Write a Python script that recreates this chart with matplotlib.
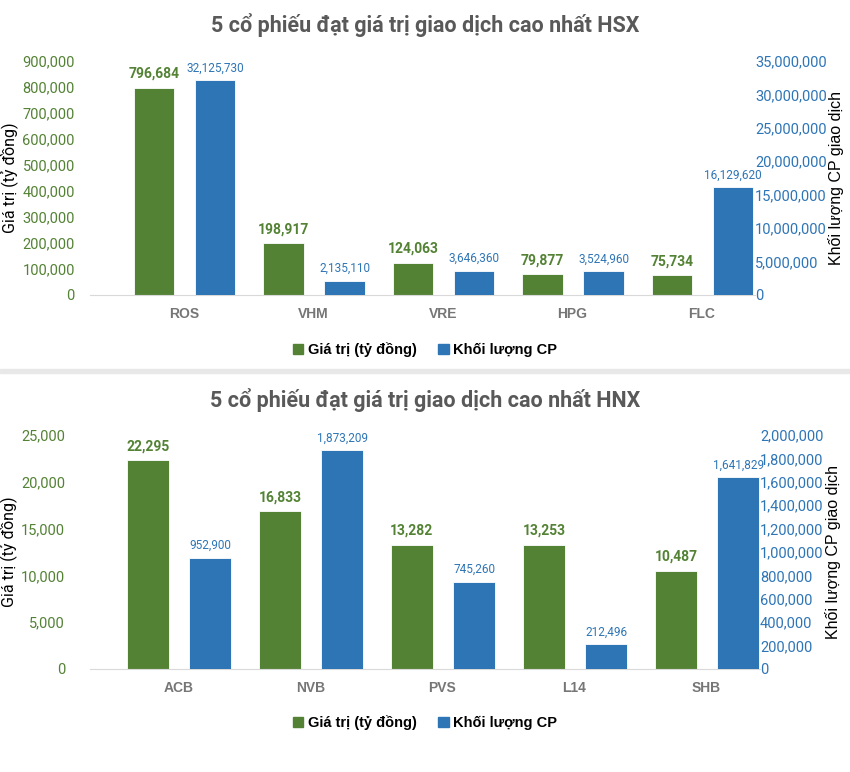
import matplotlib
matplotlib.use('Agg')
import matplotlib.pyplot as plt
from matplotlib import font_manager
from matplotlib.patches import Patch, Rectangle
from matplotlib.ticker import FuncFormatter

# du lieu HSX
hsx_codes = ['ROS', 'VHM', 'VRE', 'HPG', 'FLC']
hsx_value = [796684, 198917, 124063, 79877, 75734]
hsx_volume = [32125730, 2135110, 3646360, 3524960, 16129620]
hsx_left_ticks = [0, 100000, 200000, 300000, 400000, 500000, 600000, 700000, 800000, 900000]
hsx_right_ticks = [0, 5000000, 10000000, 15000000, 20000000, 25000000, 30000000, 35000000]

# du lieu HNX
hnx_codes = ['ACB', 'NVB', 'PVS', 'L14', 'SHB']
hnx_value = [22295, 16833, 13282, 13253, 10487]
hnx_volume = [952900, 1873209, 745260, 212496, 1641829]
hnx_left_ticks = [0, 5000, 10000, 15000, 20000, 25000]
hnx_right_ticks = [0, 200000, 400000, 600000, 800000, 1000000, 1200000, 1400000, 1600000, 1800000, 2000000]

GREEN = '#548235'
BLUE = '#2E75B6'
GRAY = '#595959'

W, H = 850, 772
names = {f.name for f in font_manager.fontManager.ttflist}
NARROW = 'Liberation Sans Narrow' if 'Liberation Sans Narrow' in names else 'Roboto'
plt.rcParams['font.family'] = ['Roboto', 'DejaVu Sans']

fig = plt.figure(figsize=(W / 100, H / 100), dpi=100)
fmt = FuncFormatter(lambda v, p: f'{int(v):,}')


def draw(title, title_y, codes, value, volume, lticks, rticks,
         top, bottom, left, right, c0, step, lpad, legend_y):
    ax = fig.add_axes([left / W, 1 - bottom / H, (right - left) / W, (bottom - top) / H])
    ax2 = ax.twinx()
    x = list(range(len(codes)))
    gx = [i - 0.232 for i in x]
    bx = [i + 0.24 for i in x]
    b1 = ax.bar(gx, value, width=0.315, color=GREEN, edgecolor='white', linewidth=0.6)
    b2 = ax2.bar(bx, volume, width=0.315, color=BLUE, edgecolor='white', linewidth=0.6)
    ax.set_xlim((left - c0) / step, (right - c0) / step)
    ax.set_ylim(lticks[0], lticks[-1])
    ax2.set_ylim(rticks[0], rticks[-1])
    ax.set_yticks(lticks)
    ax2.set_yticks(rticks)
    ax.yaxis.set_major_formatter(fmt)
    ax2.yaxis.set_major_formatter(fmt)
    ax.set_xticks(x)
    ax.set_xticklabels(codes, fontsize=10, fontweight='bold', color='#767676',
                       family=['Liberation Sans', 'DejaVu Sans'])
    ax.tick_params(axis='x', length=0, pad=9)
    ax.tick_params(axis='y', length=0, pad=lpad, labelsize=10.5, labelcolor=GREEN)
    ax2.tick_params(axis='y', length=0, pad=0, labelsize=10.5, labelcolor=BLUE)
    for a in (ax, ax2):
        for s in a.spines.values():
            s.set_visible(False)
    ax.spines['bottom'].set_visible(True)
    ax.spines['bottom'].set_color('#d9d9d9')
    ax.set_ylabel('Giá trị (tỷ đồng)', fontsize=11.5, color='black', labelpad=3)
    ax2.set_ylabel('Khối lượng CP giao dịch', fontsize=11.5, color='black',
                   family=['Liberation Sans', 'DejaVu Sans'], labelpad=1)
    for r, v in zip(b1, value):
        ax.annotate(f'{v:,}', (r.get_x() + r.get_width() / 2, v), xytext=(0, 5),
                    textcoords='offset points', ha='center', va='bottom',
                    fontsize=10, fontweight='bold', color=GREEN, family=[NARROW, 'DejaVu Sans'])
    for r, v in zip(b2, volume):
        ax2.annotate(f'{v:,}', (r.get_x() + r.get_width() / 2, v), xytext=(0, 4),
                     textcoords='offset points', ha='center', va='bottom',
                     fontsize=8.5, color=BLUE, family=[NARROW, 'DejaVu Sans'])
    fig.text(0.5, 1 - title_y / H, title, ha='center', va='center', fontsize=15.5,
             fontweight='bold', color=GRAY)
    fig.legend(handles=[Patch(color=GREEN, label='Giá trị (tỷ đồng)'),
                        Patch(color=BLUE, label='Khối lượng CP')],
               loc='center', bbox_to_anchor=(425 / W, 1 - legend_y / H), ncol=2, frameon=False,
               handlelength=0.7, handleheight=0.7, handletextpad=0.3, columnspacing=1.5,
               prop={'family': ['Liberation Sans', 'DejaVu Sans'], 'weight': 'bold', 'size': 10.5})


draw('5 cổ phiếu đạt giá trị giao dịch cao nhất HSX', 25, hsx_codes, hsx_value, hsx_volume,
     hsx_left_ticks, hsx_right_ticks, 61, 295, 90, 755, 184, 129.5, 11, 350)
draw('5 cổ phiếu đạt giá trị giao dịch cao nhất HNX', 400, hnx_codes, hnx_value, hnx_volume,
     hnx_left_ticks, hnx_right_ticks, 435, 669, 90, 760, 178.5, 132, 18, 723)

# vach ngan giua hai bieu do
fig.patches.append(Rectangle((0, 1 - 373 / H), 1, 4 / H, transform=fig.transFigure,
                             color='#e8e8e8', zorder=0))

fig.savefig('out.png', dpi=100)
